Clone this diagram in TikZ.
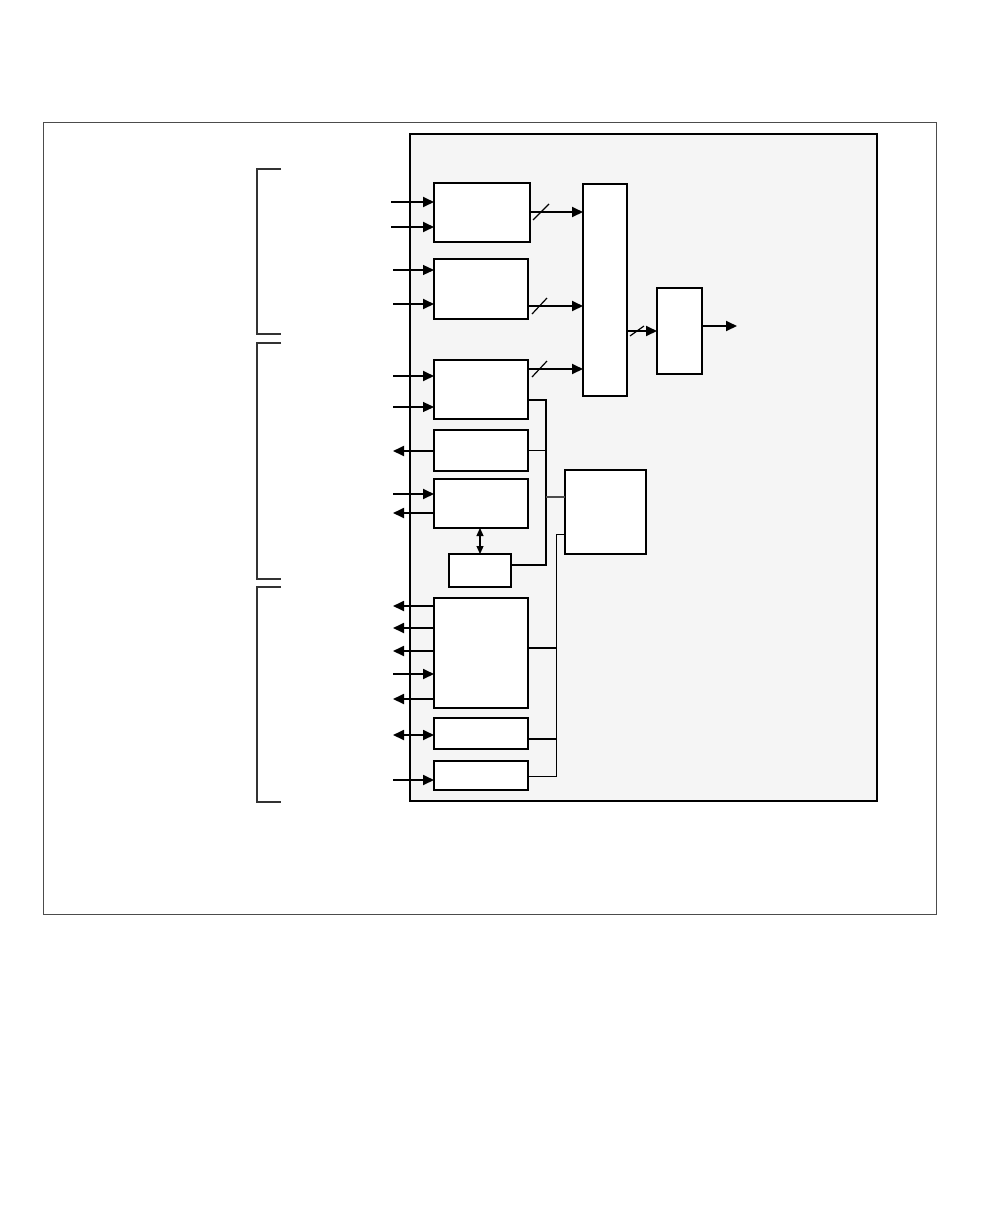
\documentclass[tikz,border=0pt]{standalone}
\usetikzlibrary{arrows.meta,positioning,calc}
\tikzset{
    blk/.style={
        draw,line width=1.8pt,fill=white,inner sep=0pt,outer sep=0pt,anchor=north west
    },
    sig/.style={
        line width=1.8pt,-{Triangle[length=11pt,width=10pt]}
    },
    thinsig/.style={
        line width=1.1pt,-{Triangle[length=11pt,width=10pt]}
    },
    wire/.style={
        line width=1.8pt
    },
    brk/.style={
        line width=1.8pt,draw=black!80
    },
    slash/.style={
        line width=1.2pt
    }
}

\begin{document}
\begin{tikzpicture}[x=1pt,y=-1pt]
\useasboundingbox (0,0) rectangle (1008,1224);
% frame and chip body
\draw[line width=.8pt,draw=black!70] (43,122) rectangle (936,914);
\draw[line width=2.8pt,fill=black!4] (410,134) rectangle (877,801);
% brackets
\draw[brk] (281,169) -| (257,334) -- (281,334);
\draw[brk] (281,343) -| (257,579) -- (281,579);
\draw[brk] (281,587) -| (257,802) -- (281,802);
% blocks
\node[blk,minimum width=96,minimum height=59] (enc1) at (434,183) {};
\node[blk,minimum width=94,minimum height=60] (enc2) at (434,259) {};
\node[blk,minimum width=94,minimum height=59] (enc3) at (434,360) {};
\node[blk,minimum width=94,minimum height=41] (dec) at (434,430) {};
\node[blk,minimum width=94,minimum height=49] (ser) at (434,479) {};
\node[blk,minimum width=62,minimum height=33] (tim) at (449,554) {};
\node[blk,minimum width=94,minimum height=110] (io1) at (434,598) {};
\node[blk,minimum width=94,minimum height=31] (io2) at (434,718) {};
\node[blk,minimum width=94,minimum height=29] (io3) at (434,761) {};
\node[blk,minimum width=44,minimum height=212] (mux) at (583,184) {};
\node[blk,minimum width=45,minimum height=86] (adc) at (657,288) {};
\node[blk,minimum width=81,minimum height=84] (ctl) at (565,470) {};
% pin coordinates
\coordinate (p1) at (391,202);
\coordinate (p2) at (391,227);
\coordinate (p3) at (393,270);
\coordinate (p4) at (393,304);
\coordinate (p5) at (393,376);
\coordinate (p6) at (393,407);
\coordinate (p7) at (393,451);
\coordinate (p8) at (393,494);
\coordinate (p9) at (393,513);
\coordinate (p10) at (393,606);
\coordinate (p11) at (393,628);
\coordinate (p12) at (393,651);
\coordinate (p13) at (393,674);
\coordinate (p14) at (393,699);
\coordinate (p15) at (393,735);
\coordinate (p16) at (393,780);
\coordinate (out) at (737,326);
% pins
\draw[sig] (p1) -- (p1 -| enc1.west);
\draw[sig] (p2) -- (p2 -| enc1.west);
\draw[thinsig] (p3) -- (p3 -| enc2.west);
\draw[sig] (p4) -- (p4 -| enc2.west);
\draw[sig] (p5) -- (p5 -| enc3.west);
\draw[thinsig] (p6) -- (p6 -| enc3.west);
\draw[sig] (p7 -| dec.west) -- (p7);
\draw[sig] (p8) -- (p8 -| ser.west);
\draw[sig] (p9 -| ser.west) -- (p9);
\draw[sig] (p10 -| io1.west) -- (p10);
\draw[sig] (p11 -| io1.west) -- (p11);
\draw[sig] (p12 -| io1.west) -- (p12);
\draw[sig] (p13) -- (p13 -| io1.west);
\draw[sig] (p14 -| io1.west) -- (p14);
\draw[sig,{Triangle[length=11pt,width=10pt]}-{Triangle[length=11pt,width=10pt]}] (p15) -- (p15 -| io2.west);
\draw[sig] (p16) -- (p16 -| io3.west);
% data paths into mux
\coordinate (d1) at (530,212);
\coordinate (d2) at (528,306);
\coordinate (d3) at (528,369);
\coordinate (d4) at (627,331);
\draw[sig] (d1) -- (d1 -| mux.west);
\draw[slash] (533,220) -- (549,204);
\draw[sig] (d2) -- (d2 -| mux.west);
\draw[slash] (532,314) -- (547,298);
\draw[sig] (d3) -- (d3 -| mux.west);
\draw[slash] (532,377) -- (547,361);
\draw[sig] (d4) -- (d4 -| adc.west);
\draw[slash] (630,336) -- (644,326);
\draw[sig] (out -| adc.east) -- (out);
% timer link
\draw[line width=1.2pt,{Triangle[length=8pt,width=7pt]}-{Triangle[length=8pt,width=7pt]}] (ser.south -| tim.north) -- (tim.north);
% bus to control
\coordinate (b1t) at (546,400);
\coordinate (b1b) at (546,565);
\coordinate (b1c) at (546,497);
\draw[wire] (b1t -| enc3.east) -- (b1t) -- (b1b) -- (b1b -| tim.east);
\draw[wire] (dec.east) -- (dec.east -| b1t);
\draw[wire,draw=black!70] (b1c) -- (b1c -| ctl.west);
\coordinate (b2t) at (556,534);
\coordinate (b2b) at (556,776);
\coordinate (b2g) at (556,648);
\coordinate (b2h) at (556,739);
\draw[line width=1pt] (b2t -| ctl.west) -- (b2t) -- (b2b) -- (b2b -| io3.east);
\draw[wire] (b2g -| io1.east) -- (b2g);
\draw[wire] (b2h -| io2.east) -- (b2h);
\end{tikzpicture}
\end{document}
